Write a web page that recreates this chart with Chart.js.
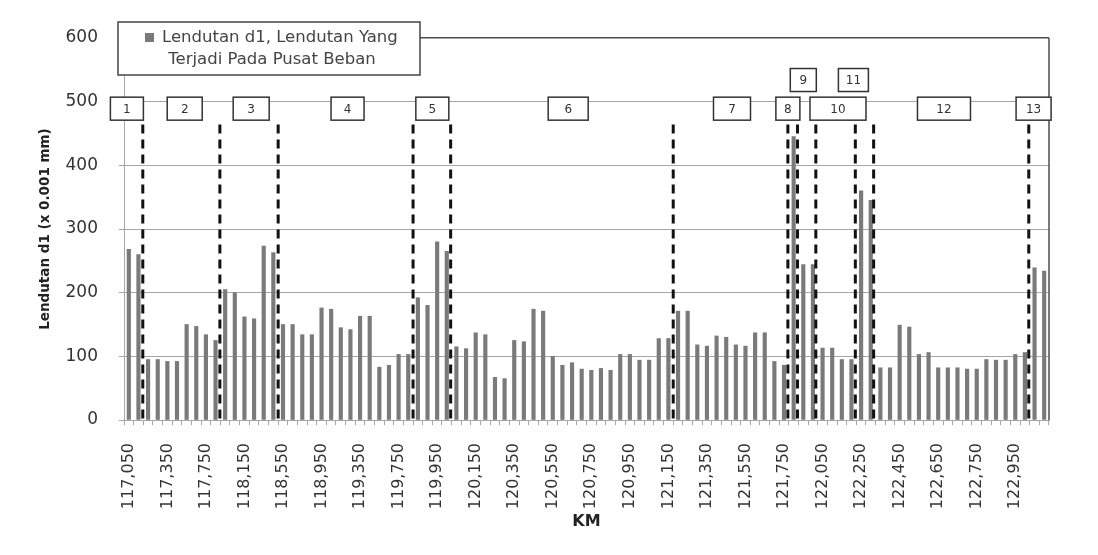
<!DOCTYPE html>
<html>
<head>
<meta charset="utf-8">
<script src="https://cdn.jsdelivr.net/npm/chart.js@4.4.1/dist/chart.umd.min.js"></script>
<style>
    html, body { margin: 0; padding: 0; background: #fff; }
    #wrap { width: 1098px; height: 555px; position: relative; }
</style>
</head>
<body>
<div id="wrap"><canvas id="lendutanChart" width="1098" height="555"></canvas></div>
<script>
// KM labels that are printed (every 4th station)
const kmTicks = ['117,050', '117,350', '117,750', '118,150', '118,550', '118,950', '119,350', '119,750',
    '119,950', '120,150', '120,350', '120,550', '120,750', '120,950', '121,150', '121,350',
    '121,550', '121,750', '122,050', '122,250', '122,450', '122,650', '122,750', '122,950'];

// Lendutan d1 (x 0.001 mm), one value per station
const lendutanD1 = [
    268, 260, 95, 95, 92, 92, 150, 147, 134, 125, 205, 200,
    162, 159, 273, 263, 150, 150, 134, 134, 176, 174, 145, 142,
    163, 163, 83, 86, 103, 103, 192, 180, 280, 265, 115, 112,
    137, 134, 67, 65, 125, 123, 174, 171, 100, 86, 90, 80,
    78, 81, 78, 103, 103, 94, 94, 128, 128, 171, 171, 118,
    116, 132, 130, 118, 116, 137, 137, 92, 86, 445, 244, 244,
    113, 113, 95, 95, 360, 345, 82, 82, 149, 146, 103, 106,
    82, 82, 82, 80, 80, 95, 94, 94, 103, 106, 239, 234
];

// segment borders (between stations) and segment numbers
const segmentBreaks = [1.45, 9.45, 15.5, 29.5, 33.4, 56.5, 68.4, 69.4, 71.3, 75.4, 77.3, 93.4];
const segmentLabels = ['1', '2', '3', '4', '5', '6', '7', '8', '9', '10', '11', '12', '13'];

// where each segment number box sits (station index, y value, box width px)
const boxAt = [-0.2, 5.8, 12.7, 22.7, 31.5, 45.6, 62.6, 68.4, 70.0, 73.6, 75.2, 84.6, 93.9];
const boxY = [489, 489, 489, 489, 489, 489, 489, 489, 534, 489, 534, 489, 489];
const boxW = [33, 35, 36, 33, 33, 40, 37, 24, 26, 56, 30, 53, 35];

const stations = lendutanD1.map((v, i) => i % 4 === 0 ? kmTicks[i / 4] : '');

const FONT = 'DejaVu Sans';

const overlay = {
    id: 'overlay',
    afterDatasetsDraw(chart) {
        const {ctx, chartArea: a, scales: {x, y}} = chart;
        ctx.save();

        // plot frame right side
        ctx.strokeStyle = '#4d4d4d';
        ctx.lineWidth = 1.5;
        ctx.beginPath();
        ctx.moveTo(a.right, a.top);
        ctx.lineTo(a.right, a.bottom);
        ctx.stroke();

        // dashed segment borders
        ctx.strokeStyle = '#111';
        ctx.lineWidth = 3;
        ctx.setLineDash([9, 6]);
        segmentBreaks.forEach(b => {
            const px = x.getPixelForValue(b);
            ctx.beginPath();
            ctx.moveTo(px, y.getPixelForValue(464));
            ctx.lineTo(px, a.bottom);
            ctx.stroke();
        });
        ctx.setLineDash([]);

        // segment number boxes
        ctx.font = '12px ' + FONT;
        ctx.textAlign = 'center';
        ctx.textBaseline = 'middle';
        segmentLabels.forEach((lbl, i) => {
            const cx = x.getPixelForValue(boxAt[i]);
            const cy = y.getPixelForValue(boxY[i]);
            const w = boxW[i], h = 23;
            ctx.fillStyle = '#fff';
            ctx.fillRect(cx - w / 2, cy - h / 2, w, h);
            ctx.strokeStyle = '#333';
            ctx.lineWidth = 1.5;
            ctx.strokeRect(cx - w / 2, cy - h / 2, w, h);
            ctx.fillStyle = '#333';
            ctx.fillText(lbl, cx, cy + 1);
        });

        // legend box
        const lx = 118, ly = 22, lw = 302, lh = 53;
        ctx.fillStyle = '#fff';
        ctx.fillRect(lx, ly, lw, lh);
        ctx.strokeStyle = '#444';
        ctx.lineWidth = 1.5;
        ctx.strokeRect(lx, ly, lw, lh);
        const ds = chart.data.datasets[0];
        ctx.font = '16.5px ' + FONT;
        ctx.textAlign = 'left';
        ctx.fillStyle = ds.backgroundColor;
        ctx.fillRect(145, 33, 9, 9);
        ctx.fillStyle = '#444';
        ctx.fillText('Lendutan d1, Lendutan Yang', 162, 38);
        ctx.textAlign = 'center';
        ctx.fillText('Terjadi Pada Pusat Beban', 272, 60);

        ctx.restore();
    }
};

new Chart(document.getElementById('lendutanChart').getContext('2d'), {
    type: 'bar',
    data: {
        labels: stations,
        datasets: [{
            label: 'Lendutan d1, Lendutan Yang Terjadi Pada Pusat Beban',
            data: lendutanD1,
            backgroundColor: '#7a7a7a',
            borderWidth: 0,
            barThickness: 3.5
        }]
    },
    options: {
        responsive: false,
        animation: false,
        devicePixelRatio: 1,
        layout: {padding: {left: 30, right: 49, top: 38, bottom: 0}},
        plugins: {
            legend: {display: false},
            tooltip: {enabled: false}
        },
        scales: {
            x: {
                grid: {
                    drawOnChartArea: false,
                    drawTicks: true,
                    tickLength: 5,
                    color: '#a6a6a6'
                },
                border: {color: '#a6a6a6'},
                ticks: {
                    autoSkip: false,
                    maxRotation: 90,
                    minRotation: 90,
                    padding: 18,
                    color: '#333',
                    font: {family: FONT, size: 16}
                },
                title: {
                    display: true,
                    text: 'KM',
                    color: '#222',
                    font: {family: FONT, size: 16, weight: 'bold'},
                    padding: {top: 4, bottom: 24}
                },
                afterFit(s) { s.height = 135; }
            },
            y: {
                min: 0,
                max: 600,
                ticks: {
                    stepSize: 100,
                    padding: 21,
                    color: '#333',
                    font: {family: FONT, size: 17}
                },
                grid: {
                    tickLength: 5,
                    color: c => c.tick && c.tick.value === 600 ? '#4d4d4d' : '#a6a6a6',
                    lineWidth: c => c.tick && c.tick.value === 600 ? 1.5 : 1
                },
                border: {color: '#a6a6a6'},
                title: {
                    display: true,
                    text: 'Lendutan d1 (x 0.001 mm)',
                    color: '#222',
                    font: {family: FONT, size: 13.5, weight: 'bold'},
                    padding: {top: 7, bottom: 0}
                },
                afterFit(s) { s.width = 94; }
            }
        }
    },
    plugins: [overlay]
});
</script>
</body>
</html>
